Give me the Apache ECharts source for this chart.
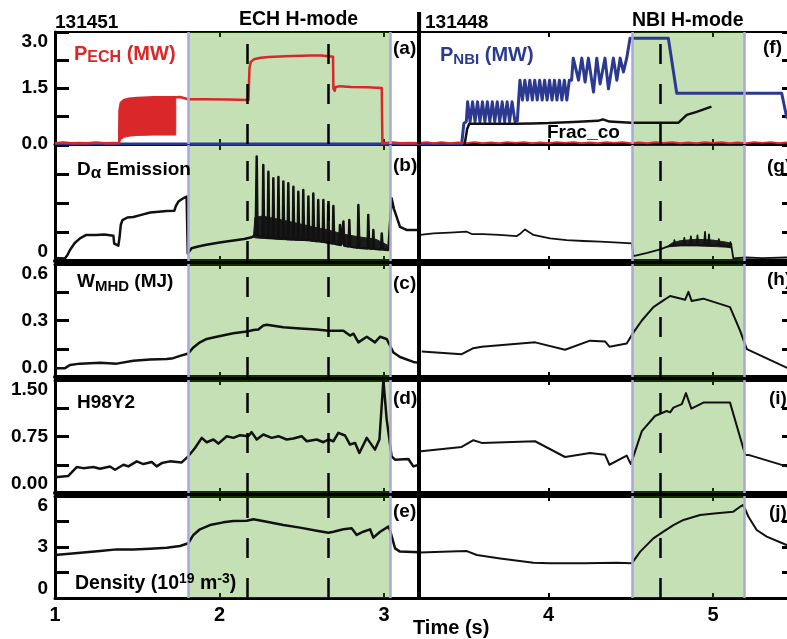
<!DOCTYPE html>
<html><head><meta charset="utf-8">
<script src="https://cdn.jsdelivr.net/npm/echarts@6/dist/echarts.min.js"></script>
<style>html,body{margin:0;padding:0;background:#fff}#c{width:787px;height:639px}</style>
</head><body><div id="c"></div>
<script>
// ---------------- data (time in s) ----------------
const xTickLabels = ['1','2','3','4','5'];
const yLabelsA = [[0,'0.0'],[1.5,'1.5'],[3,'3.0']];
const yLabelsB = [[0,'0']];
const yLabelsC = [[0,'0.0'],[0.3,'0.3'],[0.6,'0.6']];
const yLabelsD = [[0,'0.00'],[0.75,'0.75'],[1.5,'1.50']];
const yLabelsE = [[0,'0'],[3,'3'],[6,'6']];

const echWindow = [1.81, 3.04];
const nbiWindow = [4.51, 5.19];
const dashTimes = [2.167, 2.662, 4.684];
const shotSplit = 3.213;

// (a) P_ECH, shot 131451
const pechL = [[1.0,0.02],[1.05,0.04],[1.1,0.02],[1.15,0.03],[1.2,0.02],[1.25,0.04],[1.3,0.02],[1.35,0.03],[1.39,0.02],[1.392,0.9],[1.40,1.1],[1.42,1.18],[1.45,1.21],[1.50,1.23],[1.60,1.25],[1.734,1.25],[1.76,1.26],[1.81,1.2],[1.90,1.2],[2.05,1.19],[2.176,1.18],[2.182,2.03],[2.19,2.2],[2.21,2.27],[2.25,2.31],[2.30,2.33],[2.40,2.35],[2.55,2.37],[2.62,2.37],[2.69,2.34],[2.692,1.49],[2.70,1.42],[2.705,1.52],[2.73,1.55],[2.80,1.53],[2.90,1.52],[2.986,1.5],[2.99,0.02],[3.05,0.04],[3.10,0.02],[3.15,0.03],[3.213,0.02]];
const pechModT = [1.392,1.40,1.42,1.45,1.50,1.60,1.734];
const pechModLow = [0.05,0.12,0.18,0.21,0.23,0.24,0.24];
const pechModHigh = [0.9,1.1,1.18,1.21,1.23,1.25,1.25];
// (f) P_ECH, shot 131448 (noise near zero)
const pechR = [[3.213,0.03],[3.26,0.05],[3.3,0.02],[3.35,0.05],[3.4,0.02],[3.45,0.04],[3.5,0.02],[3.55,0.05],[3.6,0.02],[3.65,0.04],[3.7,0.02],[3.75,0.05],[3.8,0.03],[3.85,0.05],[3.9,0.02],[3.95,0.04],[4.0,0.02],[4.05,0.05],[4.1,0.03],[4.15,0.05],[4.2,0.02],[4.25,0.04],[4.3,0.02],[4.35,0.05],[4.4,0.03],[4.45,0.05],[4.5,0.02],[4.55,0.04],[4.6,0.02],[4.65,0.05],[4.7,0.03],[4.75,0.05],[4.8,0.02],[4.85,0.04],[4.9,0.02],[4.95,0.05],[5.0,0.03],[5.05,0.05],[5.1,0.02],[5.15,0.04],[5.2,0.02],[5.25,0.05],[5.3,0.03],[5.35,0.05],[5.4,0.02],[5.45,0.04],[5.51,0.03]];
// (f) P_NBI, shot 131448
const pnbi = [[1.0,0],[3.472,0],[3.485,0.55],[3.50,0.6],
 [3.508,1.13],[3.523,0.6],[3.538,1.13],[3.553,0.6],[3.568,1.13],[3.583,0.6],[3.598,1.13],[3.613,0.6],[3.628,1.13],[3.643,0.6],[3.658,1.13],[3.673,0.6],[3.688,1.13],[3.703,0.6],[3.718,1.13],[3.733,0.6],[3.748,1.13],[3.763,0.6],[3.778,1.13],[3.796,0.6],[3.81,0.62],[3.818,1.18],
 [3.826,1.71],[3.841,1.18],[3.856,1.71],[3.871,1.18],[3.886,1.71],[3.901,1.18],[3.916,1.71],[3.931,1.18],[3.946,1.71],[3.961,1.18],[3.976,1.71],[3.991,1.18],[4.006,1.71],[4.021,1.18],[4.036,1.71],[4.051,1.18],[4.066,1.71],[4.081,1.18],[4.096,1.71],[4.111,1.18],[4.126,1.71],[4.14,1.71],
 [4.15,2.3],[4.182,1.71],[4.202,2.3],[4.222,1.66],[4.242,2.3],[4.273,1.39],[4.293,2.3],[4.313,1.61],[4.343,2.3],[4.364,1.48],[4.394,2.3],[4.415,1.71],[4.435,2.3],[4.455,1.93],[4.475,2.3],[4.495,2.83],[4.728,2.83],[4.779,1.36],[5.417,1.36],[5.447,0.72],[5.51,0.5]];
const fracCo = [[3.49,0],[3.505,0.4],[3.518,0.54],[3.60,0.54],[3.80,0.54],[3.90,0.55],[4.0,0.56],[4.15,0.59],[4.30,0.62],[4.33,0.66],[4.37,0.6],[4.50,0.57],[4.79,0.57],[4.84,0.78],[4.90,0.86],[4.99,1.0]];

// (b) D-alpha, shot 131451
const daL = [[1.0,0.1],[1.06,0.09],[1.075,0.2],[1.091,0.38],[1.12,0.62],[1.152,0.78],[1.19,0.9],[1.25,0.9],[1.30,0.91],[1.355,0.87],[1.36,0.6],[1.37,0.55],[1.385,0.53],[1.392,0.8],[1.40,1.25],[1.41,1.41],[1.44,1.5],[1.476,1.52],[1.53,1.6],[1.578,1.67],[1.63,1.7],[1.679,1.72],[1.725,1.73],[1.735,1.9],[1.75,2.05],[1.77,2.13],[1.785,2.18],[1.80,2.22],[1.804,2.2],[1.807,0.26],[1.83,0.44],[1.87,0.5],[1.912,0.55],[2.0,0.64],[2.074,0.7],[2.15,0.76],[2.196,0.82],
 [2.22,0.9],[2.226,3.6],[2.231,0.85],[2.262,0.85],[2.266,3.31],[2.271,0.85],[2.293,0.8],[2.297,3.08],[2.302,0.8],[2.323,0.8],[2.327,2.85],[2.332,0.8],[2.354,0.78],[2.358,2.9],[2.363,0.78],[2.384,0.78],[2.388,2.74],[2.393,0.78],[2.414,0.76],[2.418,2.68],[2.423,0.76],[2.445,0.75],[2.449,2.56],[2.454,0.75],[2.475,0.74],[2.479,2.39],[2.484,0.74],[2.505,0.73],[2.509,2.45],[2.514,0.73],[2.536,0.72],[2.54,2.22],[2.545,0.72],[2.566,0.7],[2.57,2.33],[2.575,0.7],[2.596,0.68],[2.6,2.1],[2.605,0.68],[2.627,0.66],[2.631,2.1],[2.636,0.66],[2.657,0.63],[2.661,1.93],[2.666,0.63],[2.688,0.6],[2.692,1.9],[2.697,0.6],[2.728,0.56],[2.732,1.24],[2.737,0.55],[2.749,0.54],[2.753,1.36],[2.758,0.53],[2.785,0.5],[2.789,1.41],[2.794,0.5],[2.84,0.46],[2.844,1.93],[2.85,0.46],[2.90,0.43],[2.904,1.59],[2.91,0.43],[2.931,0.42],[2.935,1.07],[2.94,0.42],[2.982,0.4],[2.986,0.95],[2.992,0.4],[3.026,0.38],[3.046,2.16],[3.06,1.8],[3.076,1.53],[3.097,1.18],[3.137,1.07],[3.213,1.07]];
const daElmT = [2.206,2.215,2.26,2.35,2.45,2.55,2.66,2.75,2.85,2.95,3.02];
const daElmLow = [0.82,0.8,0.78,0.75,0.72,0.7,0.66,0.58,0.5,0.44,0.4];
const daElmHigh = [0.82,1.5,1.55,1.45,1.33,1.2,1.07,0.93,0.83,0.75,0.55];
// (g) D-alpha, shot 131448
const daR = [[3.219,0.9],[3.30,0.95],[3.40,0.98],[3.503,1.01],[3.533,0.93],[3.60,0.93],[3.70,0.9],[3.807,0.86],[3.83,0.95],[3.857,1.09],[3.88,1.0],[3.908,0.9],[4.009,0.78],[4.11,0.72],[4.213,0.69],[4.313,0.67],[4.40,0.64],[4.506,0.61],[4.516,0.17],[4.60,0.28],[4.678,0.4],[4.718,0.49],
 [4.76,0.55],[4.765,0.72],[4.77,0.55],[4.82,0.55],[4.825,0.8],[4.83,0.55],[4.86,0.55],[4.865,0.85],[4.87,0.55],[4.90,0.55],[4.905,0.88],[4.91,0.55],[4.945,0.56],[4.951,1.0],[4.956,0.56],[4.97,0.55],[4.975,0.92],[4.98,0.55],[5.03,0.55],[5.035,0.75],[5.04,0.52],[5.10,0.5],[5.105,0.65],[5.113,0.45],[5.123,0.09],[5.2,0.12],[5.3,0.1],[5.447,0.12],[5.51,0.12]];
const daRElmT = [4.718,4.75,4.80,4.90,5.00,5.08,5.113];
const daRElmLow = [0.49,0.5,0.52,0.52,0.5,0.48,0.45];
const daRElmHigh = [0.49,0.62,0.7,0.75,0.72,0.65,0.6];

// (c)/(h) W_MHD
const wmhdL = [[1.0,0.047],[1.061,0.047],[1.091,0.064],[1.152,0.071],[1.274,0.076],[1.375,0.071],[1.476,0.086],[1.578,0.093],[1.679,0.095],[1.719,0.1],[1.76,0.112],[1.81,0.125],[1.841,0.157],[1.881,0.184],[1.922,0.202],[1.983,0.214],[2.084,0.232],[2.165,0.241],[2.206,0.25],[2.236,0.252],[2.266,0.273],[2.287,0.277],[2.388,0.264],[2.489,0.258],[2.591,0.252],[2.662,0.246],[2.692,0.246],[2.753,0.246],[2.793,0.22],[2.814,0.23],[2.844,0.184],[2.895,0.214],[2.945,0.184],[2.976,0.214],[3.016,0.202],[3.057,0.13],[3.097,0.106],[3.178,0.08],[3.213,0.075]];
const wmhdR = [[3.229,0.136],[3.472,0.121],[3.543,0.153],[3.594,0.161],[3.918,0.184],[4.10,0.145],[4.252,0.193],[4.343,0.189],[4.37,0.161],[4.475,0.178],[4.516,0.237],[4.567,0.3],[4.637,0.371],[4.698,0.407],[4.739,0.43],[4.83,0.41],[4.85,0.452],[4.87,0.403],[4.941,0.416],[5.103,0.371],[5.164,0.246],[5.205,0.148],[5.447,0.05],[5.51,0.035]];

// (d)/(i) H98Y2
const h98L = [[1.0,0.21],[1.081,0.227],[1.132,0.344],[1.172,0.33],[1.233,0.344],[1.274,0.321],[1.334,0.352],[1.365,0.308],[1.416,0.375],[1.446,0.353],[1.497,0.42],[1.537,0.384],[1.588,0.411],[1.618,0.353],[1.649,0.397],[1.699,0.42],[1.77,0.406],[1.81,0.487],[1.851,0.598],[1.892,0.732],[1.922,0.674],[1.963,0.71],[1.993,0.656],[2.044,0.754],[2.084,0.732],[2.125,0.768],[2.175,0.754],[2.195,0.808],[2.226,0.71],[2.266,0.777],[2.317,0.732],[2.358,0.754],[2.408,0.71],[2.449,0.723],[2.499,0.754],[2.53,0.687],[2.591,0.71],[2.631,0.674],[2.662,0.71],[2.692,0.687],[2.722,0.799],[2.763,0.763],[2.793,0.643],[2.824,0.665],[2.85,0.531],[2.895,0.732],[2.945,0.576],[2.972,0.71],[2.996,1.5],[3.016,0.978],[3.046,0.487],[3.067,0.442],[3.148,0.451],[3.178,0.353],[3.213,0.375]];
const h98R = [[3.225,0.553],[3.472,0.611],[3.543,0.701],[3.594,0.665],[3.918,0.687],[4.10,0.478],[4.252,0.531],[4.343,0.509],[4.37,0.375],[4.475,0.496],[4.50,0.384],[4.567,0.821],[4.647,1.022],[4.718,1.089],[4.739,1.07],[4.759,1.134],[4.81,1.179],[4.835,1.326],[4.868,1.12],[4.941,1.2],[5.103,1.2],[5.195,0.509],[5.225,0.5],[5.447,0.353],[5.51,0.33]];

// (e)/(j) density
const neL = [[1.0,2.53],[1.071,2.59],[1.172,2.67],[1.274,2.76],[1.375,2.86],[1.476,2.86],[1.578,2.9],[1.679,2.96],[1.76,3.06],[1.81,3.22],[1.841,3.71],[1.881,4.04],[1.942,4.29],[2.023,4.45],[2.084,4.53],[2.165,4.55],[2.206,4.63],[2.287,4.49],[2.388,4.29],[2.489,4.14],[2.591,3.96],[2.662,3.84],[2.692,3.9],[2.753,4.04],[2.803,4.1],[2.834,3.71],[2.874,3.9],[2.915,4.04],[2.935,3.55],[2.976,3.9],[3.026,4.2],[3.036,4.0],[3.067,2.92],[3.097,2.73],[3.213,2.69]];
const neR = [[3.219,2.67],[3.401,2.73],[3.503,2.76],[3.564,2.53],[3.706,2.33],[3.908,2.08],[4.009,2.04],[4.212,2.04],[4.415,2.08],[4.506,2.04],[4.557,2.73],[4.637,3.51],[4.698,3.9],[4.759,4.29],[4.82,4.59],[4.921,4.88],[5.022,4.98],[5.123,5.08],[5.164,5.37],[5.184,5.47],[5.215,4.78],[5.265,4.0],[5.326,3.61],[5.447,3.12],[5.51,3.0]];

// ---------------- chart ----------------
const FONT = "'Liberation Sans', Arial, sans-serif";
const NARROW = "'Liberation Sans Narrow', 'Liberation Sans', Arial, sans-serif";
const RED = '#d9272a', NAVY = '#2b3a90', INK = '#111', LAV = 'rgb(168,168,218)';
const GREEN = 'rgba(62,152,5,0.3)';

const rows = [
  {top:32,  height:112, max:3,   interval:0.75,  labels:yLabelsA, topW:2, botW:3, alignMin:false},
  {top:145, height:116, max:4,   interval:1,     labels:yLabelsB, topW:2, botW:4, alignMin:true},
  {top:264, height:113, max:0.6, interval:0.15,  labels:yLabelsC, topW:3, botW:4, alignMin:true},
  {top:380, height:113, max:1.5, interval:0.375, labels:yLabelsD, topW:3, botW:4, alignMin:true},
  {top:496, height:102, max:6,   interval:1.5,   labels:yLabelsE, topW:3, botW:3, alignMin:true}
];

const grid = [], xAxis = [], yAxis = [], series = [];
rows.forEach((r, i) => {
  grid.push({left:55, top:r.top, width:742, height:r.height, outerBoundsMode:'none', containLabel:false});
  const baseX = {gridIndex:i, type:'value', min:1, max:5.51, interval:1, splitLine:{show:false}};
  xAxis.push(Object.assign({}, baseX, {
    position:'bottom',
    axisLine:{onZero:false, lineStyle:{color:'#000', width:r.botW}},
    axisTick:{inside:true, length:5, lineStyle:{color:'#000', width:2}},
    axisLabel:{show:i===4, margin:7, color:'#000', fontSize:20, fontWeight:'bold', fontFamily:FONT,
      formatter: v => { const k = Math.round(v) - 1; return xTickLabels[k] || ''; }}
  }));
  xAxis.push(Object.assign({}, baseX, {
    position:'top',
    axisLine:{onZero:false, lineStyle:{color:'#000', width:r.topW}},
    axisTick:{inside:true, length:5, lineStyle:{color:'#000', width:2}},
    axisLabel:{show:false}
  }));
  const fmt = v => { const f = r.labels.find(l => Math.abs(l[0] - v) < 1e-6); return f ? f[1] : ''; };
  yAxis.push({gridIndex:i, type:'value', min:0, max:r.max, interval:r.interval, position:'left',
    splitLine:{show:false},
    axisLine:{onZero:false, lineStyle:{color:'#000', width:3}},
    axisTick:{inside:true, length:14, lineStyle:{color:'#000', width:3}},
    axisLabel:{margin:7, color:'#000', fontSize:19, fontWeight:'bold', fontFamily:NARROW, formatter:fmt,
      showMinLabel:true, showMaxLabel:true,
      verticalAlignMaxLabel:'top', verticalAlignMinLabel: r.alignMin ? 'bottom' : 'middle'}
  });
  yAxis.push({gridIndex:i, type:'value', min:0, max:r.max, interval:r.interval, position:'right',
    splitLine:{show:false},
    axisLine:{show:false, onZero:false},
    axisTick:{inside:true, length:15, lineStyle:{color:'#000', width:3}},
    axisLabel:{show:false}
  });
});

function line(row, data, color, width, z) {
  return {type:'line', xAxisIndex:row*2, yAxisIndex:row*2, data:data, symbol:'none', silent:true,
    lineStyle:{color:color, width:width, join:'round'}, z:z || 3, animation:false};
}
// filled envelope between two read-off curves, drawn through the axes' scales
function band(row, ts, lo, hi, color) {
  return {type:'custom', coordinateSystem:'cartesian2d', xAxisIndex:row*2, yAxisIndex:row*2,
    silent:true, z:3, animation:false, clip:true,
    data:[[ts[0], lo[0]]], encode:{x:0, y:1},
    renderItem:(params, api) => {
      const pts = [];
      ts.forEach((t, k) => pts.push(api.coord([t, hi[k]])));
      for (let k = ts.length - 1; k >= 0; k--) pts.push(api.coord([ts[k], lo[k]]));
      return {type:'polygon', shape:{points:pts}, style:{fill:color, stroke:color, lineWidth:1}};
    }};
}

// row 0
series.push(line(0, pnbi, NAVY, 3));
series.push(band(0, pechModT, pechModLow, pechModHigh, RED));
series.push(line(0, pechL, RED, 2.5));
series.push(line(0, pechR, RED, 1.8));
series.push(line(0, fracCo, INK, 2.5));
// row 1
series.push(band(1, daElmT, daElmLow, daElmHigh, '#1c1c1c'));
series.push(line(1, daL, INK, 2.5));
series.push(band(1, daRElmT, daRElmLow, daRElmHigh, '#1c1c1c'));
series.push(line(1, daR, INK, 1.8));
// row 2-4
series.push(line(2, wmhdL, INK, 2.5));
series.push(line(2, wmhdR, INK, 2));
series.push(line(3, h98L, INK, 2.5));
series.push(line(3, h98R, INK, 2));
series.push(line(4, neL, INK, 2.5));
series.push(line(4, neR, INK, 2));

rows.forEach((r, i) => {
  series.push({type:'line', xAxisIndex:i*2, yAxisIndex:i*2, data:[], z:4, silent:true,
    markArea:{silent:true, itemStyle:{color:GREEN},
      data:[[{xAxis:echWindow[0]},{xAxis:echWindow[1]}],[{xAxis:nbiWindow[0]},{xAxis:nbiWindow[1]}]]}
  });
  const ml = [];
  echWindow.concat(nbiWindow).forEach(t => ml.push({xAxis:t, lineStyle:{color:LAV, width:2.5, type:'solid'}}));
  dashTimes.forEach(t => ml.push({xAxis:t, lineStyle:{color:'#000', width:2.5, type:[20,20]}}));
  ml.push({xAxis:shotSplit, lineStyle:{color:'#000', width:4, type:'solid'}});
  series.push({type:'line', xAxisIndex:i*2, yAxisIndex:i*2, data:[], z:6, silent:true,
    markLine:{silent:true, symbol:['none','none'], label:{show:false}, animation:false, data:ml}
  });
});

const chart = echarts.init(document.getElementById('c'), null, {renderer:'canvas'});
chart.setOption({animation:false, backgroundColor:'#fff', grid, xAxis, yAxis, series});

function T(x, y, text, extra) {
  return {type:'text', x:x, y:y, z:100, silent:true, style:Object.assign({
    text:text, fill:'#000', fontSize:19, fontWeight:'bold', fontFamily:FONT,
    align:'left', verticalAlign:'middle', textAlign:'left', textVerticalAlign:'middle'}, extra || {})};
}
function rs(size, color, lh, va) {
  const o = {fontSize:size, fontWeight:'bold', fontFamily:FONT, fill:color, lineHeight:lh};
  if (va) o.verticalAlign = va;
  return o;
}
const splitX = chart.convertToPixel({xAxisIndex:0}, shotSplit);
const topY = chart.convertToPixel({yAxisIndex:0}, 3);
const graphic = [
  {type:'line', z:50, silent:true, shape:{x1:splitX, y1:12, x2:splitX, y2:topY}, style:{stroke:'#000', lineWidth:4}},
  T(55, 23, '131451', {fontFamily:NARROW, fontSize:19}),
  T(425, 23, '131448', {fontFamily:NARROW, fontSize:19}),
  T(239, 20, 'ECH H-mode', {fontSize:19.5}),
  T(632, 21, 'NBI H-mode', {fontSize:19.5}),
  T(74, 54, '{m|P}{s|ECH}{m| (MW)}', {rich:{m:rs(20, RED, 24), s:rs(16, RED, 14, 'bottom')}}),
  T(440, 55, '{m|P}{s|NBI}{m| (MW)}', {rich:{m:rs(20, NAVY, 24), s:rs(15, NAVY, 13, 'bottom')}}),
  T(547, 133, 'Frac_co', {fontSize:19}),
  T(77, 170, '{m|D}{a|\u03b1}{m| Emission}', {rich:{m:rs(19, '#000', 24), a:rs(17, '#000', 18, 'bottom')}}),
  T(77, 282, '{m|W}{s|MHD}{m| (MJ)}', {rich:{m:rs(19, '#000', 24), s:rs(15, '#000', 12, 'bottom')}}),
  T(77, 403, 'H98Y2', {fontSize:19}),
  T(75, 584, '{m|Density (10}{p|19}{m| m}{p|-3}{m|)}', {rich:{m:rs(19.5, '#000', 24), p:rs(14, '#000', 16, 'top')}}),
  T(413, 628, 'Time (s)', {fontSize:20}),
  T(393, 49, '(a)'), T(393, 166, '(b)'), T(393, 284, '(c)'), T(393, 399, '(d)'), T(393, 512, '(e)'),
  T(763, 48, '(f)'), T(767, 167, '(g)'), T(767, 280, '(h)'), T(769, 399, '(i)'), T(769, 513, '(j)')
];
chart.setOption({graphic:graphic});
</script></body></html>
